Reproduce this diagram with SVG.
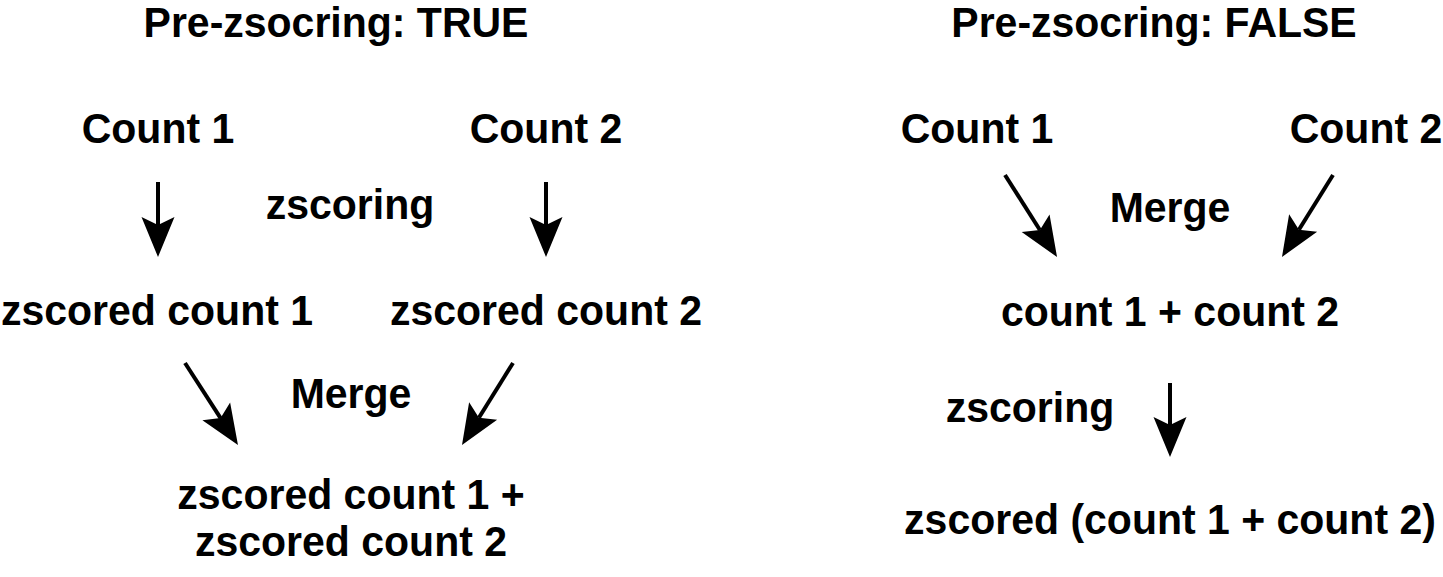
<svg xmlns="http://www.w3.org/2000/svg" width="1443" height="577" viewBox="0 0 1443 577">
<style>
text{font-family:"Liberation Sans",Arial,sans-serif;font-weight:bold;font-size:41px;fill:#000;text-anchor:middle}
.c{stroke:#000;stroke-width:4;fill:none}
</style>
<defs>
<marker id="ah" markerUnits="userSpaceOnUse" markerWidth="50" markerHeight="40" viewBox="-10 -20 50 40" refX="0" refY="0" orient="auto">
<path d="M32,0 L-8,-16.5 L0,0 L-8,16.5 Z" fill="#000"/>
</marker>
</defs>
<rect width="1443" height="577" fill="#fff"/>
<g id="title-true"><text transform="translate(336,37) scale(1,1.06)">Pre-zsocring: TRUE</text></g>
<g id="title-false"><text transform="translate(1154,37) scale(1,1.06)">Pre-zsocring: FALSE</text></g>
<g id="l-count1"><text transform="translate(158,143) scale(1,1.06)">Count 1</text></g>
<g id="l-count2"><text transform="translate(546,143) scale(1,1.06)">Count 2</text></g>
<g id="l-zscoring"><text transform="translate(350,219) scale(1,1.06)">zscoring</text></g>
<g id="l-zcount1"><text transform="translate(157,325) scale(1,1.06)">zscored count 1</text></g>
<g id="l-zcount2"><text transform="translate(546,325) scale(1,1.06)">zscored count 2</text></g>
<g id="l-merge"><text transform="translate(351,408) scale(1,1.06)">Merge</text></g>
<g id="l-result"><text transform="translate(351,509) scale(1,1.06)">zscored count 1 +</text><text transform="translate(351,556) scale(1,1.06)">zscored count 2</text></g>
<g id="r-count1"><text transform="translate(977,143) scale(1,1.06)">Count 1</text></g>
<g id="r-count2"><text transform="translate(1366,143) scale(1,1.06)">Count 2</text></g>
<g id="r-merge"><text transform="translate(1170,222) scale(1,1.06)">Merge</text></g>
<g id="r-sum"><text transform="translate(1170,326) scale(1,1.06)">count 1 + count 2</text></g>
<g id="r-zscoring"><text transform="translate(1030,422) scale(1,1.06)">zscoring</text></g>
<g id="r-result"><text transform="translate(1170,534) scale(1,1.06)">zscored (count 1 + count 2)</text></g>
<g id="connectors">
<line class="c" x1="158" y1="182" x2="158" y2="225" marker-end="url(#ah)"/>
<line class="c" x1="546" y1="182" x2="546" y2="225" marker-end="url(#ah)"/>
<line class="c" x1="185" y1="363" x2="220.6" y2="418.1" marker-end="url(#ah)"/>
<line class="c" x1="513" y1="363" x2="478.9" y2="417.8" marker-end="url(#ah)"/>
<line class="c" x1="1005" y1="175" x2="1039.9" y2="230" marker-end="url(#ah)"/>
<line class="c" x1="1333" y1="175" x2="1298.9" y2="229.8" marker-end="url(#ah)"/>
<line class="c" x1="1170" y1="383" x2="1170" y2="425" marker-end="url(#ah)"/>
</g>
</svg>
